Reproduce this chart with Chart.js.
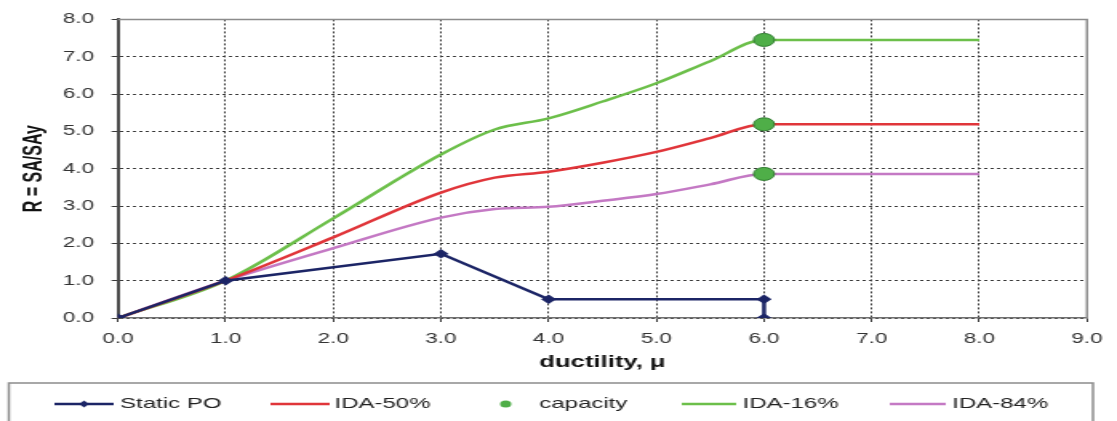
<!DOCTYPE html>
<html>
<head>
<meta charset="utf-8">
<script src="https://cdn.jsdelivr.net/npm/chart.js@4/dist/chart.umd.min.js"></script>
<style>
  html, body { margin: 0; padding: 0; background: #fff; }
  #chart { display: block; }
</style>
</head>
<body>
<!-- the source picture is stretched sideways, so draw narrow and stretch the canvas -->
<canvas id="chart" width="698" height="421" style="width:1117px;height:421px"></canvas>
<script>
// ductility mu against R = SA/SAy
const muPO = [0, 1, 3, 4, 6, 6];
const rPO = [0, 1, 1.72, 0.5, 0.5, 0];

const muIDA = [0, 1, 2, 3, 3.5, 4, 4.5, 5, 5.5, 6, 8];
const ida50 = [0, 1, 2.16, 3.36, 3.76, 3.92, 4.16, 4.45, 4.82, 5.19, 5.19];
const ida16 = [0, 1, 2.67, 4.38, 5.05, 5.35, 5.8, 6.29, 6.88, 7.45, 7.45];
const ida84 = [0, 1, 1.87, 2.69, 2.92, 2.98, 3.14, 3.32, 3.58, 3.86, 3.86];

const capMu = [6, 6, 6];
const capR = [7.45, 5.19, 3.86];

const seriesNames = ['Static PO', 'IDA-50%', 'capacity', 'IDA-16%', 'IDA-84%'];
const xTicks = [0, 1, 2, 3, 4, 5, 6, 7, 8, 9];
const yTicks = [0, 1, 2, 3, 4, 5, 6, 7, 8];

const pts = (xs, ys) => xs.map((x, i) => ({ x: x, y: ys[i] }));
const fmt = v => Number(v).toFixed(1);

// grey frame on top and right of the plot
const plotFrame = {
    id: 'plotFrame',
    beforeDatasetsDraw(chart) {
        const a = chart.chartArea;
        const ctx = chart.ctx;
        ctx.save();
        ctx.strokeStyle = '#8c8c8c';
        ctx.lineWidth = 1.5;
        ctx.beginPath();
        ctx.moveTo(a.left, a.top);
        ctx.lineTo(a.right, a.top);
        ctx.lineTo(a.right, a.bottom);
        ctx.stroke();
        ctx.restore();
    }
};

// boxed legend below the axis title, like the spreadsheet one
const legendBox = {
    id: 'legendBox',
    afterDraw(chart) {
        const ctx = chart.ctx;
        const y = 404;
        const slots = [[34, 71, 75], [169, 206, 209], [316, 316, 337], [426, 460, 464], [556, 591, 595]];
        ctx.save();
        ctx.strokeStyle = '#8c8c8c';
        ctx.lineWidth = 1.5;
        ctx.strokeRect(5.5, 383, 677.5, 60);
        ctx.font = '15px "Liberation Sans", Arial, sans-serif';
        ctx.textBaseline = 'middle';
        chart.data.datasets.forEach((ds, i) => {
            const [a, b, tx] = slots[i];
            if (ds.showLine === false) {
                ctx.beginPath();
                ctx.arc(a, y, 3.5, 0, Math.PI * 2);
                ctx.fillStyle = ds.pointBackgroundColor;
                ctx.fill();
            } else {
                ctx.beginPath();
                ctx.moveTo(a, y);
                ctx.lineTo(b, y);
                ctx.strokeStyle = ds.borderColor;
                ctx.lineWidth = 2.5;
                ctx.stroke();
                if (ds.pointRadius > 0) {
                    const c = (a + b) / 2;
                    ctx.beginPath();
                    ctx.moveTo(c, y - 3.5);
                    ctx.lineTo(c + 3, y);
                    ctx.lineTo(c, y + 3.5);
                    ctx.lineTo(c - 3, y);
                    ctx.closePath();
                    ctx.fillStyle = ds.borderColor;
                    ctx.fill();
                }
            }
            ctx.fillStyle = '#222';
            ctx.fillText(ds.label, tx, y);
        });
        ctx.restore();
    }
};

const ctx = document.getElementById('chart').getContext('2d');

new Chart(ctx, {
    type: 'scatter',
    data: {
        datasets: [{
            label: seriesNames[0],
            data: pts(muPO, rPO),
            showLine: true,
            borderColor: '#1c2566',
            backgroundColor: '#1c2566',
            borderWidth: 2.5,
            pointStyle: 'rectRot',
            pointRadius: 3,
            tension: 0,
            order: 1
        }, {
            label: seriesNames[1],
            data: pts(muIDA, ida50),
            showLine: true,
            borderColor: '#e0353a',
            borderWidth: 2.5,
            pointRadius: 0,
            cubicInterpolationMode: 'monotone',
            order: 2
        }, {
            label: seriesNames[2],
            data: pts(capMu, capR),
            showLine: false,
            pointRadius: 6.5,
            pointBackgroundColor: '#4fae48',
            pointBorderColor: '#2f7d2f',
            pointBorderWidth: 1,
            order: 0
        }, {
            label: seriesNames[3],
            data: pts(muIDA, ida16),
            showLine: true,
            borderColor: '#6cbf4a',
            borderWidth: 2.5,
            pointRadius: 0,
            cubicInterpolationMode: 'monotone',
            order: 2
        }, {
            label: seriesNames[4],
            data: pts(muIDA, ida84),
            showLine: true,
            borderColor: '#c479c4',
            borderWidth: 2.5,
            pointRadius: 0,
            cubicInterpolationMode: 'monotone',
            order: 2
        }]
    },
    options: {
        responsive: false,
        devicePixelRatio: 1,
        animation: false,
        events: [],
        layout: { padding: { left: 0, top: 17, right: 17.5, bottom: 45 } },
        plugins: {
            legend: { display: false },
            tooltip: { enabled: false }
        },
        scales: {
            x: {
                type: 'linear',
                min: 0,
                max: 9,
                afterBuildTicks: s => { s.ticks = xTicks.map(v => ({ value: v })); },
                afterFit: s => { s.height = 58; },
                grid: { color: '#3a3a3a', lineWidth: 1, tickLength: 4 },
                border: { color: '#707070', width: 1.5, dash: [2, 2] },
                ticks: {
                    callback: fmt,
                    padding: 9,
                    color: '#333',
                    maxRotation: 0,
                    font: { family: '"Liberation Sans", Arial, sans-serif', size: 14 }
                },
                title: {
                    display: true,
                    text: 'ductility, μ',
                    color: '#111',
                    padding: { top: 0, bottom: 4 },
                    font: { family: '"Liberation Sans", Arial, sans-serif', size: 16, weight: 'bold' }
                }
            },
            y: {
                min: 0,
                max: 8,
                afterBuildTicks: s => { s.ticks = yTicks.map(v => ({ value: v })); },
                afterFit: s => { s.width = 73.7; },
                grid: { color: '#3a3a3a', lineWidth: 1, tickLength: 4 },
                border: { color: '#4a4a4a', width: 2, dash: [2, 2] },
                ticks: {
                    callback: fmt,
                    padding: 11,
                    color: '#333',
                    font: { family: '"Liberation Sans", Arial, sans-serif', size: 14 }
                },
                title: {
                    display: true,
                    text: 'R = SA/SAy',
                    color: '#111',
                    padding: { top: 12, bottom: 0 },
                    font: { family: '"Liberation Sans", Arial, sans-serif', size: 16, weight: 'bold' }
                }
            }
        }
    },
    plugins: [plotFrame, legendBox]
});
</script>
</body>
</html>
